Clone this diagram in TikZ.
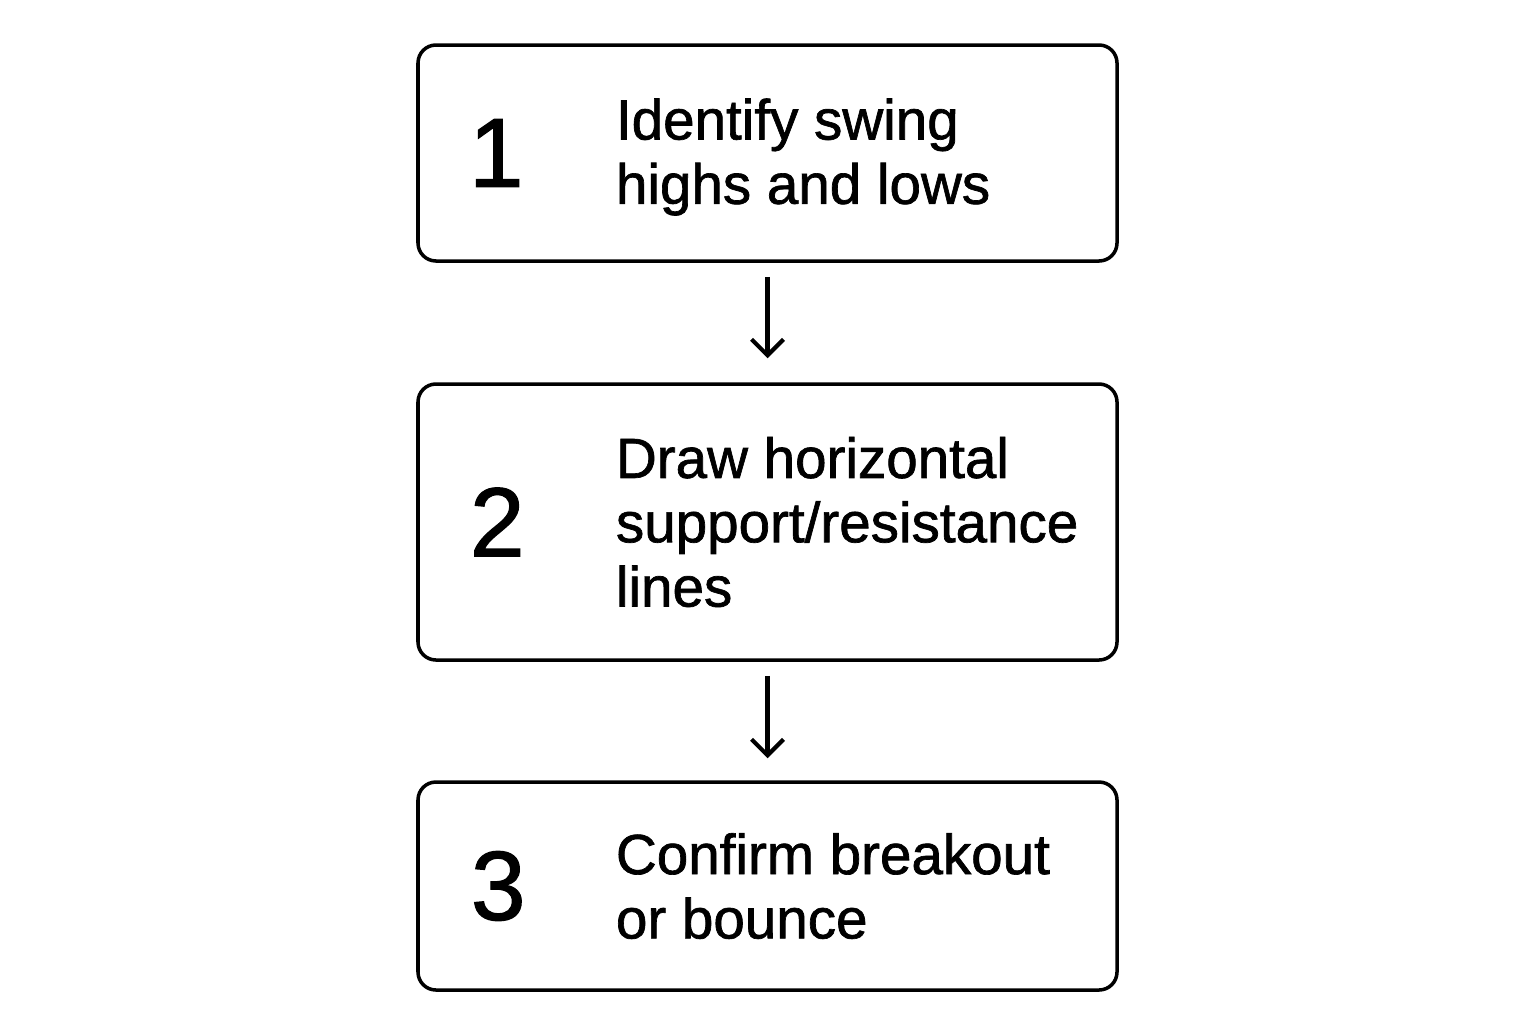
\documentclass[tikz,border=0pt]{standalone}
\usepackage{fontspec}
\setmainfont{Liberation Sans}[FakeBold=1.2]
\usetikzlibrary{arrows.meta}

\tikzset{
  stepbox/.style={draw, line width=1pt, rounded corners=0.18cm, minimum width=6.99cm},
  stepnum/.style={font=\fontsize{28}{32}\selectfont},
  steptext/.style={anchor=west, align=left, inner sep=0pt, font=\fontsize{16.1}{18.3}\selectfont},
  flow/.style={-{Straight Barb[length=1.6mm, width=3.2mm, line width=1.2pt]}, line width=1.2pt, shorten <=0.14cm}
}

\begin{document}
\begin{tikzpicture}
\useasboundingbox (0,0) rectangle (15.36,-10.24);
\node[stepbox, minimum height=2.16cm] (box1) at (7.675,-1.53) {};
\node[stepbox, minimum height=2.76cm] (box2) at (7.675,-5.22) {};
\node[stepbox, minimum height=2.08cm] (box3) at (7.675,-8.86) {};
\node[stepnum] (n1) at ([xshift=0.8cm] box1.west) {1};
\node[stepnum] (n2) at ([xshift=0.81cm] box2.west) {2};
\node[stepnum] (n3) at ([xshift=0.82cm] box3.west) {3};
\node[steptext] (t1) at ([xshift=1.99cm, yshift=-0.04cm] box1.west) {Identify swing\\highs and lows};
\node[steptext] (t2) at ([xshift=1.99cm] box2.west) {Draw horizontal\\support/resistance\\lines};
\node[steptext] (t3) at ([xshift=1.99cm] box3.west) {Confirm breakout\\or bounce};
\draw[flow, shorten >=0.24cm] (box1.south) -- (box2.north);
\draw[flow, shorten >=0.22cm] (box2.south) -- (box3.north);
\end{tikzpicture}
\end{document}
